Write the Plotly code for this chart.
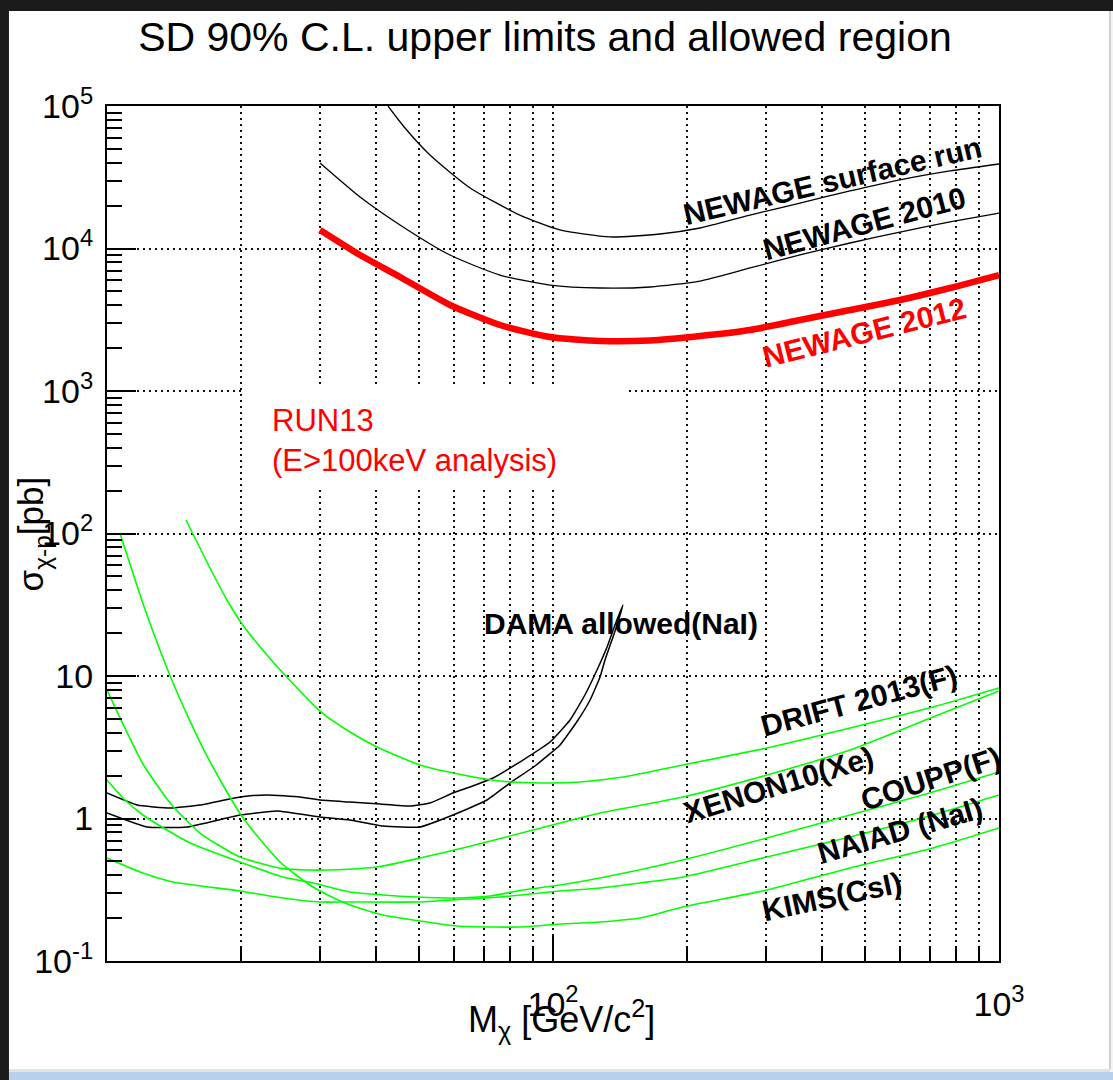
import plotly.graph_objects as go
import math

# ---------------- data ----------------
# NEWAGE limits [mass GeV, sigma pb]
surface_m = [42.66, 46.58, 52.99, 65.2, 84.3, 103.7, 134.2, 173.8, 213.6, 276.5, 357.9, 463.4, 599.8, 776.5, 1000]
surface_s = [1e5, 70080, 45310, 26600, 17170, 13490, 12050, 12640, 13930, 17170, 20840, 25330, 30300, 35000, 39170]

n2010_m = [30.03, 36.93, 45.39, 58.75, 76.06, 98.47, 127.5, 165.0, 213.6, 276.5, 357.9, 463.4, 599.8, 776.5, 1000]
n2010_s = [39800, 22980, 14630, 8997, 6510, 5540, 5280, 5370, 5910, 7298, 9005, 10930, 13050, 15350, 17740]

n2012_m = [30.03, 36.93, 45.39, 58.75, 76.06, 98.47, 127.5, 165.0, 213.6, 276.5, 357.9, 463.4, 599.8, 776.5, 1000]
n2012_s = [13490, 8997, 6310, 4016, 2904, 2392, 2243, 2260, 2431, 2679, 3148, 3700, 4350, 5280, 6510]

# DAMA allowed region (upper branch left->top, lower branch top->left)
dama_m = [10.0, 11.68, 13.85, 16.16, 19.87, 22.84, 27.08, 30.03, 35.06, 40.94, 47.79, 52.99, 59.67, 65.16,
          73.36, 85.63, 98.47, 109.2, 117.9, 125.5, 132.2, 137.7, 143.5,
          139.2, 136.3, 130.8, 127.5, 121.1, 113.8, 103.7, 91.1, 80.09, 71.12, 59.67, 50.33, 41.58,
          35.06, 30.03, 24.06, 19.87, 15.12, 12.29, 10.0]
dama_s = [1.510, 1.243, 1.185, 1.243, 1.416, 1.462, 1.416, 1.348, 1.305, 1.264, 1.224, 1.285, 1.510, 1.664,
          1.924, 2.573, 3.442, 4.912, 7.355, 11.02, 15.98, 22.80, 31.50,
          22.80, 18.78, 12.95, 9.84, 6.785, 4.912, 3.280, 2.336, 1.775, 1.348, 1.058, 0.872, 0.886,
          0.976, 1.024, 1.129, 1.058, 0.872, 0.872, 1.093]

drift_m = [15.04, 17.02, 18.58, 20.08, 22.84, 24.81, 30.03, 35.06, 40.31, 50.33, 62.83, 76.06, 93.52,
           115.0, 143.5, 195.6, 301.8, 463.4, 711.2, 1000]
drift_s = [124.4, 57.27, 34.15, 23.17, 14.04, 10.50, 5.679, 4.046, 3.176, 2.374, 2.020, 1.833, 1.775,
           1.804, 1.955, 2.374, 3.124, 4.316, 6.060, 8.236]

xenon_m = [10.0, 10.97, 12.04, 13.85, 16.16, 19.87, 24.81, 28.08, 31.5, 34.52, 40.31, 50.33, 64.15, 90.19, 127.5,
           195.6, 301.8, 463.4, 711.2, 1000]
xenon_s = [7.976, 4.316, 2.413, 1.285, 0.791, 0.537, 0.445, 0.435, 0.435, 0.440, 0.4566, 0.528, 0.631, 0.830, 1.093,
           1.416, 2.020, 3.025, 5.157, 7.847]

coupp_m = [10.0, 10.97, 12.04, 13.63, 15.35, 19.87, 24.81, 28.96, 35.06, 41.58, 49.56, 59.67, 72.23, 85.63, 103.7,
           127.5, 195.6, 301.8, 463.4, 711.2, 1000]
coupp_s = [1.863, 1.348, 1.058, 0.830, 0.673, 0.4951, 0.3886, 0.3527, 0.3049, 0.2905, 0.2812, 0.2768, 0.2858,
           0.3150, 0.3415, 0.3825, 0.5116, 0.7298, 1.058, 1.535, 2.120]

naiad_m = [10.0, 12.04, 14.06, 19.87, 24.81, 30.03, 35.06, 50.33, 64.15, 76.06, 103.7, 127.5, 156.7, 195.6,
           301.8, 463.4, 711.2, 1000]
naiad_s = [0.528, 0.4144, 0.3584, 0.3099, 0.2768, 0.2594, 0.2594, 0.2594, 0.2723, 0.2812, 0.3099, 0.3254, 0.3527,
           0.3886, 0.537, 0.7418, 1.058, 1.462]

kims_m = [10.69, 12.29, 14.28, 16.58, 19.97, 24.43, 28.96, 34.17, 41.58, 50.33, 60.92, 73.36, 84.33, 103.7,
          127.5, 156.7, 195.6, 301.8, 463.4, 711.2, 1000]
kims_s = [100.8, 26.81, 7.976, 2.928, 1.058, 0.4951, 0.3307, 0.2553, 0.2103, 0.1909, 0.1761, 0.1733, 0.1733,
          0.1818, 0.1878, 0.2003, 0.2393, 0.3150, 0.4494, 0.6209, 0.8577]

# axis ticks
x_major_vals = [10, 100, 1000]
x_major_text = ["", "10<sup>2</sup>", "10<sup>3</sup>"]
x_minor_vals = [20, 30, 40, 50, 60, 70, 80, 90, 200, 300, 400, 500, 600, 700, 800, 900]
y_major_vals = [0.1, 1, 10, 100, 1e3, 1e4, 1e5]
y_major_text = ["10<sup>-1</sup>", "1", "10", "10<sup>2</sup>", "10<sup>3</sup>", "10<sup>4</sup>", "10<sup>5</sup>"]
y_minor_vals = [k * 10.0 ** e for e in range(-1, 5) for k in range(2, 10)]

# curve labels: (text, mass, sigma, angle, color)
labels = [
    ("NEWAGE surface run", 424.4, 29770, -13, "black"),
    ("NEWAGE 2010", 498.2, 15100, -15, "black"),
    ("NEWAGE 2012", 498.2, 2594, -14, "red"),
    ("DAMA allowed(NaI)", 142.0, 23.54, 0, "black"),
    ("DRIFT 2013(F)", 485.5, 6.785, -15, "black"),
    ("XENON10(Xe)", 321.1, 1.746, -17, "black"),
    ("COUPP(F)", 703.8, 1.924, -18, "black"),
    ("NAIAD (NaI)", 599.8, 0.830, -16, "black"),
    ("KIMS(CsI)", 422.3, 0.2858, -12, "black"),
]

FONT = "Liberation Sans, Arial, Helvetica, sans-serif"
GREEN = "#00ff00"

fig = go.Figure()

def add_line(m, s, color, width, smooth=0.6):
    fig.add_trace(go.Scatter(x=m, y=s, mode="lines",
                             line=dict(color=color, width=width, shape="spline", smoothing=smooth),
                             hoverinfo="skip", showlegend=False))

add_line(surface_m, surface_s, "black", 1.3)
add_line(n2010_m, n2010_s, "black", 1.3)
add_line(dama_m, dama_s, "black", 1.5, 0.4)
for m, s in [(drift_m, drift_s), (xenon_m, xenon_s), (coupp_m, coupp_s), (naiad_m, naiad_s), (kims_m, kims_s)]:
    add_line(m, s, GREEN, 1.6)
add_line(n2012_m, n2012_s, "#ff0000", 6.5)

annotations = []
for text, m, s, ang, col in labels:
    annotations.append(dict(x=math.log10(m), y=math.log10(s), xref="x", yref="y",
                            text="<b>%s</b>" % text, showarrow=False, textangle=ang,
                            font=dict(family=FONT, size=30, color=col),
                            xanchor="center", yanchor="middle"))

# RUN13 note
annotations.append(dict(x=math.log10(23.2), y=math.log10(445.9), xref="x", yref="y",
                        text="RUN13<br>(E&gt;100keV analysis)", showarrow=False, align="left",
                        xanchor="left", yanchor="middle",
                        font=dict(family=FONT, size=31, color="#ff0000")))
# axis titles
annotations.append(dict(x=-0.083, y=0.5, xref="paper", yref="paper",
                        text="σ<sub>χ-p</sub>[pb]", showarrow=False, textangle=-90,
                        xanchor="center", yanchor="middle",
                        font=dict(family=FONT, size=35, color="black")))
annotations.append(dict(x=0.510, y=-0.069, xref="paper", yref="paper",
                        text="M<sub>χ</sub> [GeV/c<sup>2</sup>]", showarrow=False,
                        xanchor="center", yanchor="middle",
                        font=dict(family=FONT, size=36, color="black")))

shapes = [
    # white canvas of the slide (pixel coords converted to paper coords)
    dict(type="rect", xref="paper", yref="paper", x0=-0.1099, x1=1.1244, y0=-0.1263, y1=1.1111,
         fillcolor="white", line=dict(width=0), layer="below"),
    dict(type="rect", xref="paper", yref="paper", x0=-0.1099, x1=1.1244, y0=-0.1298, y1=-0.1263,
         fillcolor="#e2e2e2", line=dict(width=0), layer="below"),
    dict(type="rect", xref="paper", yref="paper", x0=-0.1099, x1=1.2, y0=-0.15, y1=-0.1298,
         fillcolor="#b9d0ea", line=dict(width=0), layer="below"),
    dict(type="rect", xref="paper", yref="paper", x0=1.1244, x1=1.2, y0=-0.1298, y1=1.1111,
         fillcolor="#f4f4f4", line=dict(width=0), layer="below"),
    dict(type="rect", xref="paper", yref="paper", x0=1.1233, x1=1.1255, y0=-0.1263, y1=1.1111,
         fillcolor="#d0d0d0", line=dict(width=0), layer="below"),
    # white box behind the RUN13 note
    dict(type="rect", xref="paper", yref="paper", x0=0.1547, x1=0.5841, y0=0.5544, y1=0.6702,
         fillcolor="white", line=dict(width=0), layer="above"),
]

grid_kw = dict(gridcolor="#111111", gridwidth=1.8, griddash="2px,4px")

fig.update_layout(
    width=1113, height=1080,
    margin=dict(l=107, r=114, t=106, b=119),
    paper_bgcolor="#1b1b1b", plot_bgcolor="white",
    title=dict(text="SD 90% C.L. upper limits and allowed region", x=0.491, xref="paper",
               y=1 - 37 / 1080, yref="container", xanchor="center", yanchor="middle",
               font=dict(family=FONT, size=41, color="black")),
    xaxis=dict(type="log", range=[1, 3], tickmode="array", tickvals=x_major_vals, ticktext=x_major_text,
               ticks="inside", ticklen=25, tickwidth=2, tickcolor="black",
               showline=True, linewidth=2, linecolor="black", mirror=True,
               showgrid=True, **grid_kw, zeroline=False,
               tickfont=dict(family=FONT, size=34, color="black"), ticklabelstandoff=12,
               minor=dict(tickmode="array", tickvals=x_minor_vals, ticks="inside", ticklen=15,
                          tickwidth=2, tickcolor="black", showgrid=True, **grid_kw)),
    yaxis=dict(type="log", range=[-1, 5], tickmode="array", tickvals=y_major_vals, ticktext=y_major_text,
               ticks="inside", ticklen=29, tickwidth=2, tickcolor="black",
               showline=True, linewidth=2, linecolor="black", mirror=True,
               showgrid=True, **grid_kw, zeroline=False,
               tickfont=dict(family=FONT, size=34, color="black"), ticklabelstandoff=5,
               minor=dict(tickmode="array", tickvals=y_minor_vals, ticks="inside", ticklen=15,
                          tickwidth=2, tickcolor="black", showgrid=False)),
    annotations=annotations,
    shapes=shapes,
    showlegend=False,
)

fig.write_html("out.html")
